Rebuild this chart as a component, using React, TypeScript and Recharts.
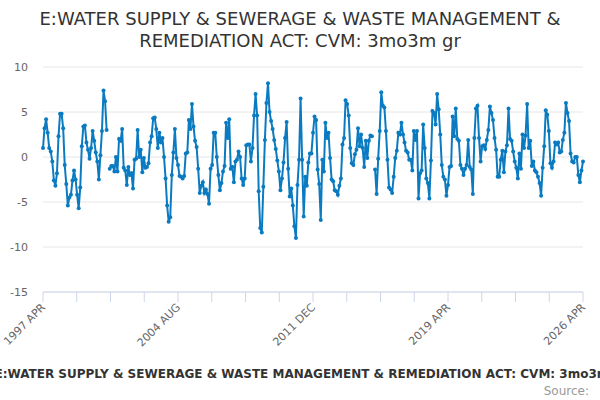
import { LineChart, Line, XAxis, YAxis, CartesianGrid } from 'recharts';

const MONTHS = ['JAN', 'FEB', 'MAR', 'APR', 'MAY', 'JUN', 'JUL', 'AUG', 'SEP', 'OCT', 'NOV', 'DEC'];

// 3 month on 3 month growth, % (month by month)
const apr1997 = [
  1.0, 3.2, 4.2, 2.7, 1.0, 0.6, -0.5, -2.6, -3.2, -1.8,
  2.3, 4.8, 4.8, 3.2, -0.9, -3.0, -5.4, -4.5, -4.2, -2.6,
  -1.5, -2.5, -4.2, -5.7, -3.4, 1.2, 3.4, 3.5, 1.6, 0.8,
  -0.2, 1.0, 2.9, 1.8, 0.5, -0.5, -2.5, 0.2, 2.9, 7.4,
  6.2, 3.0,
];
const nov2000 = [
  -1.3, -1.0, -1.0, -1.6, 0.0, -1.6, 2.0, 1.8, 3.1, -1.2,
  -1.5, -3.1, -1.1, -2.0, -1.8, -3.5, -0.3, -0.2, 3.0, 0.0,
  0.8, -1.7, -0.1, -1.2, -1.1, -0.7, 1.6, 2.3, 4.3, 4.4,
  3.1, 1.0, 2.7, 1.6, 2.1, 0.0, -2.4, -5.4, -7.2, -6.7,
  -2.0, 0.5,
];
const may2004 = [
  3.1, -0.1, -0.9, -2.1, -2.2, -2.4, -2.1, 0.4, 0.5, 4.1,
  3.1, 5.9, 3.4, 1.8, 1.1, -1.3, -4.0, -3.2, -2.8, -4.0,
  -3.6, -4.1, -5.2, -1.3, -0.9, 2.7, 2.7, 0.0, -2.0, -3.7,
  -2.9, -1.6, -1.0, 3.8, 2.1, 4.2, -1.3, -1.1, -2.8, -0.5,
  -0.3, 0.6, 0.0, -2.4, -3.1, -2.4, 1.3, 1.4, 1.4, -0.5,
  1.0, 4.6, 7.0, 4.6, -3.8, -7.9, -8.4, -3.3, 1.9, 6.0,
  8.2, 5.0, 4.0, 3.1, 1.9, 0.9, -0.4, -1.6, -3.7, -2.4,
  -0.6, 2.1, 3.9, -1.3, -4.4, -3.5, -5.4, -7.7, -9.0, -3.1,
  -0.3, 6.5, -0.3, -6.6, -2.2, -3.2, -0.6, 0.4,
];
const sep2011 = [
  0.4, 2.7, 4.5, 4.1, -1.4, -3.0, -7.0, -0.3, -1.6, 3.8,
  2.1, 2.7, -0.1, -2.5, -2.7, -3.7, -3.8, -4.2, -3.2, -2.4,
  1.4, 2.1, 6.3, 5.9, 4.6, 1.0, -0.7, -0.9, 0.3, 0.8,
  3.2, 1.2, 2.5, 1.0, -1.1, 1.8, -0.1, 1.8, 2.4, 2.3,
  null, -1.4, -4.1, -0.2, 2.9, 7.2, 5.7, 5.5, 2.9, -0.3,
  -3.4, -3.6, -4.0, -2.2, -0.1, 0.7, 2.7, 2.5, 3.8, 2.5,
  1.6, 0.7, 0.5, -0.3, -0.3, -1.5, 2.9, 1.9, 2.9, -4.6,
  -1.8, -1.5, 3.6, 1.0, -2.4, -2.9, -4.6, -0.4, 5.1, 4.9,
  3.6, 7.0, 5.3, 2.5, -0.9, -2.2, -2.5, -4.3,
];
const jan2019 = [
  -3.1, -1.1, -1.0, 4.5, 2.3, 5.4, 2.0, 1.8, -0.9, -1.3,
  -2.0, -1.3, -0.9, 1.9, -1.1, -1.4, -4.1, 2.1, 5.4,
  5.7, 2.1, -0.5, 1.2, 1.3, 0.9, 1.9, 3.0, 5.6, 4.9,
  4.1, 2.1, 0.8, -2.2, -2.2, -0.3, 0.7, -1.7, 0.6,
  1.3, 5.4, 2.0, 1.8, 0.6, -0.5, -1.2, -2.4,
  0.4, -1.3, 2.5, 1.0, 2.4, 5.9, 1.0, 1.8, -1.0, -0.5,
  -1.5, -1.7, -2.2, -2.9, -4.3, -1.2, 1.2, 5.2, 4.7,
  2.9, -0.7, -1.2, -0.5, 1.6, 1.4, 1.6, 0.5, 0.6, 1.9,
  2.7, 6.0, 4.9, 4.0, 0.4, -0.5, -0.6, 0.0, 0.0, -2.0,
  -2.8, -1.5, -0.5,
];

const growth: (number | null)[] = [...apr1997, null, ...nov2000, ...may2004, ...sep2011, ...jan2019];

const xTickLabels = ['1997 APR', '2004 AUG', '2011 DEC', '2019 APR', '2026 APR'];
const yTicks = [10, 5, 0, -5, -10, -15];

const LAST = growth.length - 1;
const xTicks = Array.from({ length: 17 }, (_, k) => (k * LAST) / 16);

const data = growth.map((value, i) => ({
  i,
  month: `${1997 + Math.floor((3 + i) / 12)} ${MONTHS[(3 + i) % 12]}`,
  value,
}));

const TITLE = 'E:WATER SUPPLY & SEWERAGE & WASTE MANAGEMENT & REMEDIATION ACT: CVM: 3mo3m gr';
const BLUE = '#0b7bc1';
const FONT = '"DejaVu Sans", sans-serif';

const DateTick = (props: any) => {
  const { x, y, index } = props;
  if (index % 4 !== 0) return null;
  const bx = x + 3;
  const by = y + 4;
  return (
    <text x={bx} y={by} transform={`rotate(-45, ${bx}, ${by})`} textAnchor="end"
      fontSize={11} fill="#666" fontFamily={FONT}>
      {xTickLabels[index / 4]}
    </text>
  );
};

export default function App() {
  return (
    <div style={{ position: 'absolute', left: 0, top: 0, width: 600, height: 400, background: '#fff', fontFamily: FONT }}>
      <LineChart width={600} height={400} data={data} margin={{ top: 67, right: 17, bottom: 0, left: 0 }}>
        <CartesianGrid vertical={false} stroke="#e6e6e6" />
        <XAxis
          type="number" dataKey="i" domain={[0, LAST]} ticks={xTicks} interval={0}
          height={108} tickSize={10}
          axisLine={{ stroke: '#ccd6eb' }} tickLine={{ stroke: '#ccd6eb' }}
          tick={<DateTick />}
        />
        <YAxis
          type="number" domain={[-15, 10]} ticks={yTicks} interval={0} width={43}
          axisLine={false} tickLine={false} tickSize={0} tickMargin={15}
          tick={{ fill: '#666', fontSize: 11, fontFamily: FONT }}
        />
        <Line
          type="linear" dataKey="value" stroke={BLUE} strokeWidth={2}
          dot={{ r: 2, fill: BLUE, stroke: BLUE, strokeWidth: 0 }}
          activeDot={false} isAnimationActive={false}
        />
      </LineChart>
      <svg width={600} height={400} style={{ position: 'absolute', left: 0, top: 0, pointerEvents: 'none' }}>
        <text x={300} y={24.5} textAnchor="middle" fontSize={18} fill="#333" fontFamily={FONT}>
          E:WATER SUPPLY &amp; SEWERAGE &amp; WASTE MANAGEMENT &amp;
        </text>
        <text x={300} y={46.5} textAnchor="middle" fontSize={18} fill="#333" fontFamily={FONT}>
          REMEDIATION ACT: CVM: 3mo3m gr
        </text>
        <text x={-5.5} y={378} fontSize={12} fontWeight="bold" fill="#333" fontFamily={FONT}>
          {TITLE}
        </text>
        <text x={589} y={394.5} textAnchor="end" fontSize={12} fill="#999" fontFamily={FONT}>
          Source:
        </text>
      </svg>
    </div>
  );
}
